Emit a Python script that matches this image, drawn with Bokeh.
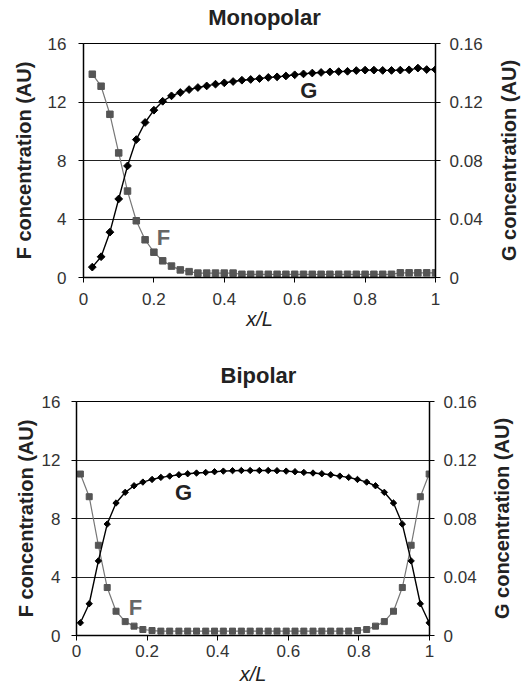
import math
from bokeh.plotting import figure
from bokeh.layouts import column, row
from bokeh.models import Range1d, LinearAxis, FixedTicker, CustomJSTickFormatter
from bokeh.core.properties import value
from bokeh.embed import file_html
from bokeh.resources import INLINE

# ---------------- data ----------------
x_mono = [0.025, 0.05, 0.075, 0.1, 0.125, 0.15, 0.175, 0.2, 0.225, 0.25,
          0.275, 0.3, 0.325, 0.35, 0.375, 0.4, 0.425, 0.45, 0.475, 0.5,
          0.525, 0.55, 0.575, 0.6, 0.625, 0.65, 0.675, 0.7, 0.725, 0.75,
          0.775, 0.8, 0.825, 0.85, 0.875, 0.9, 0.925, 0.95, 0.975, 1.0]
f_mono = [13.9, 13.08, 11.16, 8.52, 5.91, 3.88, 2.58, 1.73, 1.14, 0.78,
          0.52, 0.40, 0.30, 0.30, 0.30, 0.30, 0.30, 0.22, 0.22, 0.22,
          0.22, 0.22, 0.22, 0.22, 0.22, 0.22, 0.22, 0.22, 0.22, 0.22,
          0.22, 0.22, 0.22, 0.22, 0.22, 0.32, 0.32, 0.32, 0.32, 0.32]
g_mono = [0.0071, 0.0142, 0.0310, 0.0537, 0.0763, 0.0943, 0.1060, 0.1144, 0.1205, 0.1242,
          0.1265, 0.1285, 0.1299, 0.1310, 0.1322, 0.1331, 0.1340, 0.1349, 0.1354, 0.1360,
          0.1368, 0.1372, 0.1378, 0.1386, 0.1392, 0.1398, 0.1402, 0.1406, 0.1408, 0.1410,
          0.1415, 0.1418, 0.1418, 0.1416, 0.1416, 0.1418, 0.1420, 0.1432, 0.1422, 0.1422]

x_bi = [0.011, 0.036, 0.062, 0.087, 0.112, 0.138, 0.163, 0.188, 0.214, 0.239,
        0.264, 0.290, 0.315, 0.340, 0.366, 0.391, 0.416, 0.442, 0.467, 0.492,
        0.518, 0.543, 0.568, 0.594, 0.619, 0.644, 0.670, 0.695, 0.720, 0.746,
        0.771, 0.796, 0.822, 0.847, 0.872, 0.898, 0.923, 0.948, 0.974, 0.999]
f_bi = [11.04, 9.49, 6.17, 3.28, 1.66, 0.95, 0.64, 0.41, 0.34, 0.30,
        0.30, 0.30, 0.30, 0.30, 0.30, 0.30, 0.30, 0.30, 0.30, 0.30,
        0.30, 0.30, 0.30, 0.30, 0.30, 0.30, 0.30, 0.30, 0.30, 0.30,
        0.30, 0.34, 0.41, 0.64, 0.95, 1.66, 3.28, 6.17, 9.49, 11.04]
g_bi = [0.0087, 0.0217, 0.0510, 0.0762, 0.0906, 0.0979, 0.1024, 0.1049, 0.1067, 0.1081,
        0.1090, 0.1099, 0.1106, 0.1111, 0.1115, 0.1120, 0.1124, 0.1127, 0.1128, 0.1128,
        0.1128, 0.1128, 0.1127, 0.1124, 0.1120, 0.1115, 0.1111, 0.1106, 0.1099, 0.1090,
        0.1081, 0.1067, 0.1049, 0.1024, 0.0979, 0.0906, 0.0762, 0.0510, 0.0217, 0.0087]

f_ticks = [0, 4, 8, 12, 16]
g_ticks = [0, 0.04, 0.08, 0.12, 0.16]
x_ticks = [0, 0.2, 0.4, 0.6, 0.8, 1]

titles = ["Monopolar", "Bipolar"]
f_label = "F concentration (AU)"
g_label = "G concentration (AU)"

FONT = "Liberation Sans"
F_COLOR = "#555555"
G_COLOR = "#000000"
MAIN_W = 487
SIDE_W = 34


def text_fig(width, height, tx, ty, text, size, angle=0.0, bt=0, bb=0):
    """A bare figure that only carries one piece of text (titles / right-side label)."""
    f = figure(width=width, height=height, x_range=Range1d(0, width), y_range=Range1d(0, height - bt - bb),
               x_axis_type=None, y_axis_type=None, output_backend="svg", toolbar_location=None,
               min_border_left=0, min_border_right=0, min_border_top=bt, min_border_bottom=bb)
    f.outline_line_color = None
    f.background_fill_color = "white"
    f.border_fill_color = "white"
    f.text(x=[tx], y=[ty], text=[text], angle=angle, text_font=value(FONT), text_font_size=size,
           text_font_style="bold", text_color="#222222", text_align="center", text_baseline="middle")
    return f


def make(xs, fs, gs, f_lab, g_lab, height, borders, lstand, lmaj, xstand, sq, dm):
    bl, br, bt, bb = borders
    p = figure(width=MAIN_W, height=height, x_range=Range1d(0, 1), y_range=Range1d(0, 16),
               output_backend="svg", toolbar_location=None,
               min_border_left=bl, min_border_right=br, min_border_top=bt, min_border_bottom=bb)
    p.extra_y_ranges = {"g": Range1d(0, 0.16)}
    p.outline_line_color = "black"
    p.outline_line_width = 1
    p.background_fill_color = "white"
    p.border_fill_color = "white"

    p.xgrid.visible = False
    p.ygrid.ticker = FixedTicker(ticks=[4, 8, 12])
    p.ygrid.grid_line_color = "#222222"
    p.ygrid.grid_line_width = 1

    fmt = CustomJSTickFormatter(code="return String(Math.round(tick*100)/100);")

    xa = p.xaxis[0]
    xa.ticker = FixedTicker(ticks=x_ticks)
    xa.formatter = fmt
    xa.axis_label = "x/L"
    xa.axis_label_text_font = FONT
    xa.axis_label_text_font_style = "italic"
    xa.axis_label_text_font_size = "20px"
    xa.axis_label_text_color = "#222222"
    xa.major_label_standoff = xstand[0]
    xa.axis_label_standoff = xstand[1]

    ya = p.yaxis[0]
    ya.ticker = FixedTicker(ticks=f_ticks)
    ya.axis_label = f_label
    ya.axis_label_text_font = FONT
    ya.axis_label_text_font_size = "20px"
    ya.axis_label_text_color = "#222222"
    ya.axis_label_text_font_style = "bold"
    ya.axis_label_standoff = lstand
    ya.major_label_standoff = lmaj

    ra = LinearAxis(y_range_name="g", ticker=FixedTicker(ticks=g_ticks), formatter=fmt)
    ra.major_label_standoff = 9
    p.add_layout(ra, "right")

    for ax in (xa, ya, ra):
        ax.axis_line_color = "black"
        ax.axis_line_width = 1.5
        ax.major_tick_line_color = "black"
        ax.major_tick_in = 0
        ax.major_tick_out = 5
        ax.minor_tick_line_color = None
        ax.major_label_text_font = FONT
        ax.major_label_text_font_size = "17px"
        ax.major_label_text_color = "#333333"

    # F series (left axis)
    p.line(xs, fs, line_color="#777777", line_width=1.2)
    p.scatter(xs, fs, marker="square", size=sq, fill_color=F_COLOR, line_color=F_COLOR)
    # G series (right axis)
    p.line(xs, gs, line_color=G_COLOR, line_width=1.4, y_range_name="g")
    p.scatter(xs, gs, marker="square", angle=0.785398, size=dm, fill_color=G_COLOR,
              line_color=G_COLOR, y_range_name="g")

    p.text(x=[f_lab[0]], y=[f_lab[1]], text=["F"], text_font=value(FONT), text_font_size="22px",
           text_font_style="bold", text_color="#666666", text_align="center", text_baseline="middle")
    p.text(x=[g_lab[0]], y=[g_lab[1]], text=["G"], text_font=value(FONT), text_font_size="22px",
           text_font_style="bold", text_color="#222222", text_align="center", text_baseline="middle")
    return p


# --- Monopolar block ---
t1 = text_fig(521, 33, 264, 16, titles[0], "22px")
p1 = make(x_mono, f_mono, g_mono, (0.227, 2.74), (0.64, 12.8),
          317, (83, MAIN_W - 435, 10, 73), 10, 12, (10, 0), 6.5, 5.5)
r1 = text_fig(SIDE_W, 317, 508 - MAIN_W, 117, g_label, "20px", angle=math.pi / 2, bt=10, bb=73)

# --- Bipolar block ---
t2 = text_fig(521, 41, 258, 16, titles[1], "22px")
p2 = make(x_bi, f_bi, g_bi, (0.167, 1.9), (0.303, 9.76),
          298, (76, MAIN_W - 429, 10, 54), 2, 11, (4, 3), 6, 4.5)
r2 = text_fig(SIDE_W, 298, 501 - MAIN_W, 117, g_label, "20px", angle=math.pi / 2, bt=10, bb=54)

layout = column(t1, row(p1, r1, spacing=0), t2, row(p2, r2, spacing=0), spacing=0)
open("out.html", "w").write(file_html(layout, INLINE))
